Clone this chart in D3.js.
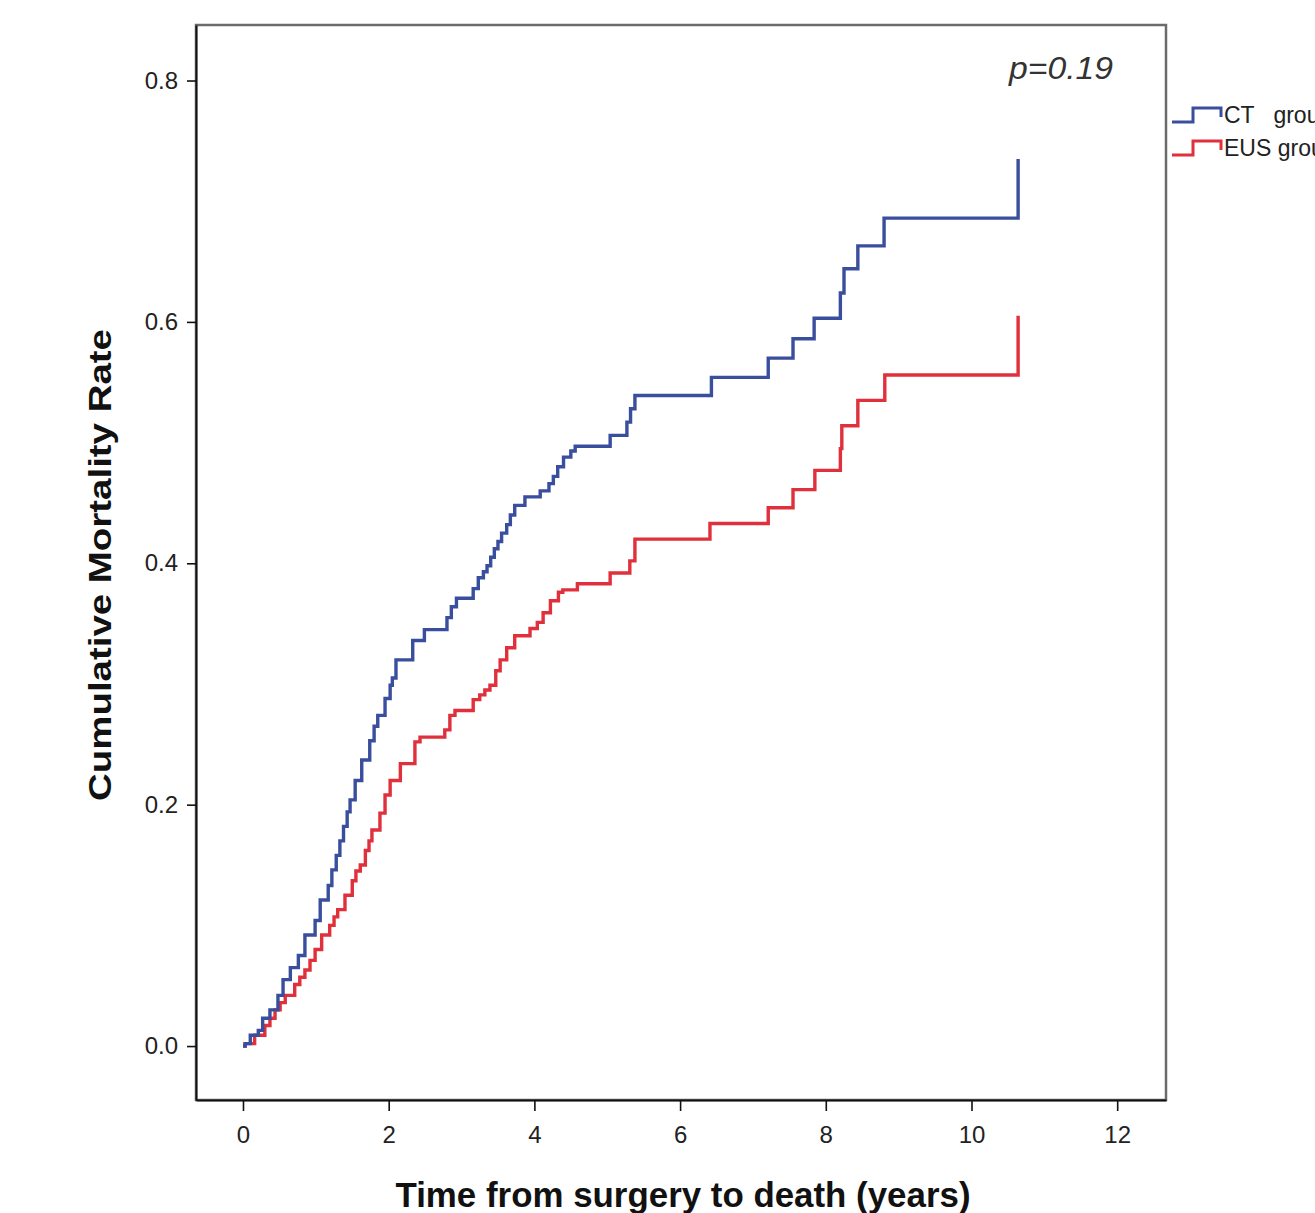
<!DOCTYPE html>
<html>
<head>
<meta charset="utf-8">
<script src="https://cdn.jsdelivr.net/npm/d3@7"></script>
<style>
  body { margin: 0; background: #fff; overflow: hidden; }
  text { font-family: "Liberation Sans", Arial, sans-serif; }
</style>
</head>
<body>
<div id="chart"></div>
<script>
// cumulative mortality
var ctTimes = [0, 0.03, 0.10, 0.21, 0.27, 0.37, 0.48, 0.55, 0.65, 0.76, 0.85, 0.99, 1.06, 1.17, 1.22, 1.28, 1.33, 1.38, 1.43, 1.47, 1.54, 1.63, 1.74, 1.80, 1.85, 1.95, 2.02, 2.05, 2.10, 2.33, 2.49, 2.80, 2.86, 2.93, 3.16, 3.23, 3.30, 3.35, 3.40, 3.45, 3.50, 3.55, 3.62, 3.67, 3.73, 3.87, 4.08, 4.20, 4.26, 4.32, 4.40, 4.50, 4.56, 5.04, 5.27, 5.32, 5.38, 6.43, 7.21, 7.55, 7.84, 8.20, 8.25, 8.44, 8.80, 10.64];
var ctRates = [0, 0.002, 0.009, 0.013, 0.023, 0.030, 0.042, 0.055, 0.065, 0.075, 0.092, 0.104, 0.121, 0.133, 0.146, 0.158, 0.170, 0.182, 0.194, 0.204, 0.220, 0.237, 0.253, 0.265, 0.274, 0.288, 0.299, 0.305, 0.320, 0.336, 0.345, 0.355, 0.364, 0.371, 0.379, 0.388, 0.393, 0.398, 0.405, 0.412, 0.418, 0.425, 0.432, 0.440, 0.448, 0.455, 0.460, 0.466, 0.472, 0.480, 0.488, 0.493, 0.497, 0.506, 0.517, 0.528, 0.539, 0.554, 0.570, 0.586, 0.603, 0.624, 0.644, 0.663, 0.686, 0.735];

var eusTimes = [0, 0.03, 0.16, 0.30, 0.37, 0.44, 0.51, 0.58, 0.71, 0.78, 0.85, 0.92, 0.99, 1.08, 1.19, 1.25, 1.30, 1.40, 1.50, 1.55, 1.61, 1.68, 1.73, 1.77, 1.88, 1.95, 2.02, 2.16, 2.36, 2.43, 2.77, 2.84, 2.91, 3.16, 3.25, 3.32, 3.39, 3.47, 3.53, 3.62, 3.73, 3.94, 4.04, 4.12, 4.22, 4.33, 4.39, 4.59, 5.04, 5.31, 5.38, 6.41, 7.21, 7.55, 7.85, 8.20, 8.22, 8.44, 8.81, 10.64];
var eusRates = [0, 0.002, 0.009, 0.017, 0.023, 0.030, 0.036, 0.042, 0.051, 0.057, 0.063, 0.071, 0.080, 0.092, 0.100, 0.107, 0.113, 0.125, 0.137, 0.145, 0.150, 0.162, 0.170, 0.179, 0.193, 0.208, 0.220, 0.234, 0.252, 0.256, 0.262, 0.274, 0.278, 0.287, 0.291, 0.295, 0.299, 0.311, 0.320, 0.330, 0.340, 0.346, 0.351, 0.359, 0.369, 0.376, 0.378, 0.383, 0.392, 0.402, 0.420, 0.433, 0.446, 0.461, 0.477, 0.495, 0.514, 0.535, 0.556, 0.605];

var groups = ["CT   group", "EUS group"];
var groupColors = ["#3a4e9e", "#df303c"];
var xTicks = [0, 2, 4, 6, 8, 10, 12];
var yTicks = [0.0, 0.2, 0.4, 0.6, 0.8];
var pLabel = "p=0.19";

var width = 1315, height = 1213;
var plotLeft = 196, plotRight = 1166, plotTop = 25, plotBottom = 1100;

var svg = d3.select("#chart").append("svg")
    .attr("width", width)
    .attr("height", height);

var x = d3.scaleLinear().domain([-0.645, 12.67]).range([plotLeft, plotRight]);
var y = d3.scaleLinear().domain([-0.0447, 0.846]).range([plotBottom, plotTop]);

// frame
svg.append("rect")
    .attr("x", plotLeft).attr("y", plotTop)
    .attr("width", plotRight - plotLeft).attr("height", plotBottom - plotTop)
    .attr("fill", "none")
    .attr("stroke", "#6b6b6b")
    .attr("stroke-width", 2.5);

var yAxis = svg.append("g")
    .attr("transform", "translate(" + plotLeft + ",0)")
    .call(d3.axisLeft(y).tickValues(yTicks).tickFormat(d3.format(".1f"))
        .tickSizeInner(9).tickSizeOuter(0).tickPadding(9));

var xAxis = svg.append("g")
    .attr("transform", "translate(0," + plotBottom + ")")
    .call(d3.axisBottom(x).tickValues(xTicks).tickFormat(d3.format("d"))
        .tickSizeInner(11).tickSizeOuter(0).tickPadding(10));

svg.selectAll(".domain").attr("stroke", "#111").attr("stroke-width", 2);
svg.selectAll(".tick line").attr("stroke", "#111").attr("stroke-width", 1.6);
svg.selectAll(".tick text")
    .attr("fill", "#222")
    .style("font-size", "24px")
    .style("font-family", "'Liberation Sans', Arial, sans-serif");
xAxis.selectAll(".tick text").attr("dy", "0.92em");

// step curves
var line = d3.line()
    .curve(d3.curveStepAfter)
    .x(function(d) { return x(d[0]); })
    .y(function(d) { return y(d[1]); });

var series = [
  { name: groups[0], color: groupColors[0], values: d3.zip(ctTimes, ctRates) },
  { name: groups[1], color: groupColors[1], values: d3.zip(eusTimes, eusRates) }
];

svg.selectAll("path.km")
    .data(series.slice().reverse())
  .enter().append("path")
    .attr("class", "km")
    .attr("d", function(d) { return line(d.values); })
    .attr("fill", "none")
    .attr("stroke", function(d) { return d.color; })
    .attr("stroke-width", 3.4);

// p value
svg.append("text")
    .attr("x", 1113).attr("y", 79)
    .attr("text-anchor", "end")
    .attr("fill", "#333")
    .style("font-size", "31px")
    .style("font-style", "italic")
    .attr("textLength", 104)
    .attr("lengthAdjust", "spacingAndGlyphs")
    .text(pLabel);

// legend (text runs off the right edge as in the original)
var legend = svg.selectAll("g.legend")
    .data(series)
  .enter().append("g")
    .attr("class", "legend")
    .attr("transform", function(d, i) { return "translate(1172," + (i * 33 + 122) + ")"; });

legend.append("path")
    .attr("d", "M0,0H21V-14H49V-5")
    .attr("fill", "none")
    .attr("stroke", function(d) { return d.color; })
    .attr("stroke-width", 3);

legend.append("text")
    .attr("x", 52).attr("y", 1)
    .attr("fill", "#222")
    .style("font-size", "23px")
    .style("white-space", "pre")
    .text(function(d) { return d.name; });

// axis titles
svg.append("text")
    .attr("x", 683).attr("y", 1207)
    .attr("text-anchor", "middle")
    .attr("fill", "#111")
    .style("font-size", "35px")
    .style("font-weight", "bold")
    .attr("textLength", 575)
    .attr("lengthAdjust", "spacingAndGlyphs")
    .text("Time from surgery to death (years)");

svg.append("text")
    .attr("transform", "translate(111,565) rotate(-90)")
    .attr("text-anchor", "middle")
    .attr("fill", "#111")
    .style("font-size", "31px")
    .style("font-weight", "bold")
    .attr("textLength", 472)
    .attr("lengthAdjust", "spacingAndGlyphs")
    .text("Cumulative Mortality Rate");
</script>
</body>
</html>
